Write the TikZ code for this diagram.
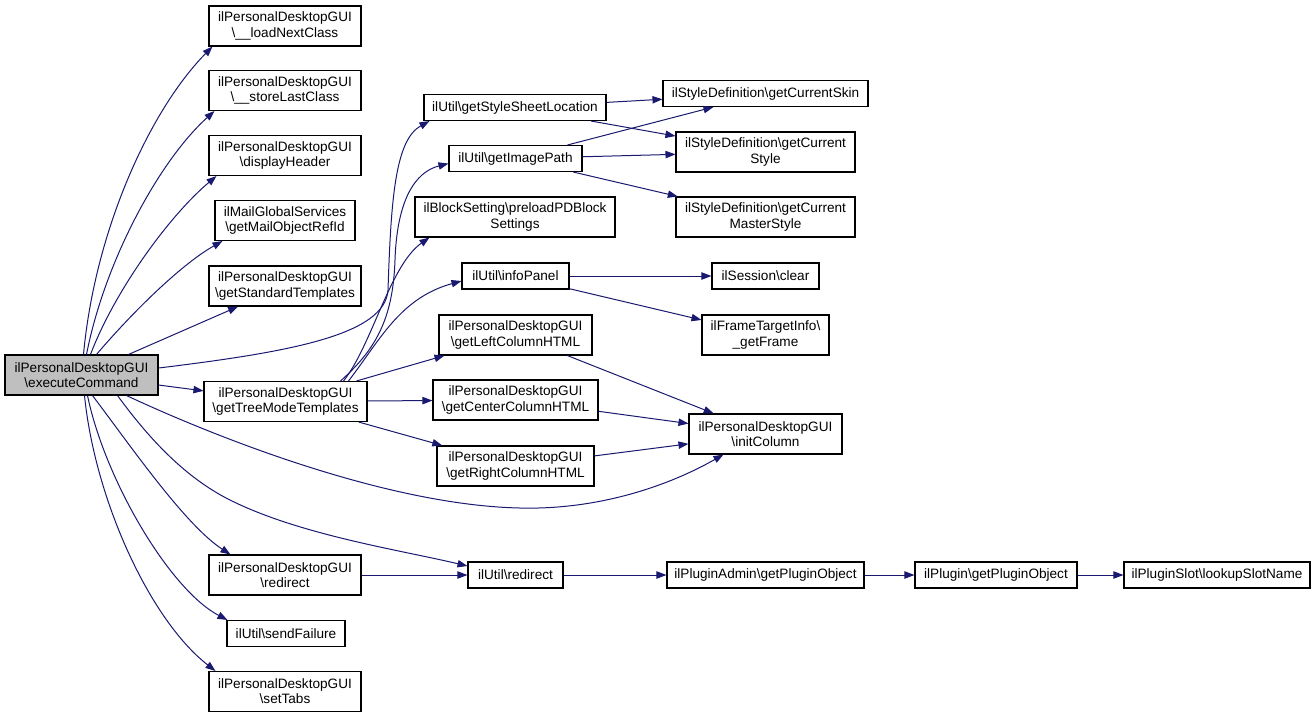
\documentclass[tikz,border=0pt]{standalone}
\usepackage{fontspec}
\setmainfont{Liberation Sans}
\usetikzlibrary{arrows.meta,calc}
\definecolor{edge}{RGB}{25,25,112}
\definecolor{hl}{RGB}{191,191,191}
\tikzset{
  box/.style={draw=black, line width=0.8pt, fill=white, align=center, inner sep=1pt,
    minimum width=#1*0.75pt, minimum height=30pt,
    font=\fontsize{10.2}{11.4}\selectfont},
  one/.style={minimum height=19.5pt},
  call/.style={draw=edge, line width=0.75pt, -{Triangle[length=7.5pt,width=5.5pt]}},
}
\newcommand{\bs}{\textbackslash}
\begin{document}
\begin{tikzpicture}[x=0.75pt,y=-0.75pt]
\useasboundingbox (0,0) rectangle (1316,719);
% nodes
\node[box=153, fill=hl] (exec) at (81.5,375) {ilPersonalDesktopGUI\\\bs executeCommand};
\node[box=152] (n1) at (285,26) {ilPersonalDesktopGUI\\\bs\_\_loadNextClass};
\node[box=152] (n2) at (285,90.5) {ilPersonalDesktopGUI\\\bs\_\_storeLastClass};
\node[box=152] (n3) at (285,155.5) {ilPersonalDesktopGUI\\\bs displayHeader};
\node[box=140] (n4) at (285,220.5) {ilMailGlobalServices\\\bs getMailObjectRefId};
\node[box=152] (n5) at (285,286) {ilPersonalDesktopGUI\\\bs getStandardTemplates};
\node[box=163] (tree) at (285.5,401.5) {ilPersonalDesktopGUI\\\bs getTreeModeTemplates};
\node[box=152] (pred) at (285,575) {ilPersonalDesktopGUI\\\bs redirect};
\node[box=118, one] (sendf) at (286,633.5) {ilUtil\bs sendFailure};
\node[box=152] (tabs) at (285,691.5) {ilPersonalDesktopGUI\\\bs setTabs};
\node[box=182, one] (gss) at (515,107.5) {ilUtil\bs getStyleSheetLocation};
\node[box=133, one] (gip) at (515.5,158.5) {ilUtil\bs getImagePath};
\node[box=200] (pre) at (515,217) {ilBlockSetting\bs preloadPDBlock\\Settings};
\node[box=107, one] (info) at (515.5,276) {ilUtil\bs infoPanel};
\node[box=153] (left) at (515.5,335) {ilPersonalDesktopGUI\\\bs getLeftColumnHTML};
\node[box=165] (center) at (515.5,400) {ilPersonalDesktopGUI\\\bs getCenterColumnHTML};
\node[box=157] (right) at (515.5,466) {ilPersonalDesktopGUI\\\bs getRightColumnHTML};
\node[box=205, one] (skin) at (765.5,93.5) {ilStyleDefinition\bs getCurrentSkin};
\node[box=179] (style) at (765.5,152) {ilStyleDefinition\bs getCurrent\\Style};
\node[box=179] (master) at (765.5,217) {ilStyleDefinition\bs getCurrent\\MasterStyle};
\node[box=107, one] (clear) at (765.5,276) {ilSession\bs clear};
\node[box=127] (frame) at (765.5,335) {ilFrameTargetInfo\bs\\\_getFrame};
\node[box=153] (init) at (765.5,434) {ilPersonalDesktopGUI\\\bs initColumn};
\node[box=95, one] (ured) at (515.5,575) {ilUtil\bs redirect};
\node[box=197, one] (padmin) at (765.5,575) {ilPluginAdmin\bs getPluginObject};
\node[box=162, one] (plugin) at (996,575) {ilPlugin\bs getPluginObject};
\node[box=186, one] (slot) at (1217,575) {ilPluginSlot\bs lookupSlotName};
% edges from executeCommand
\draw[call] ($(exec.north)+(2,0)$) .. controls (95,230) and (150,110) .. ($(n1.south west)+(4,0)$);
\draw[call] ($(exec.north)+(5,0)$) .. controls (105,260) and (160,160) .. ($(n2.south west)+(6,0)$);
\draw[call] ($(exec.north)+(9,0)$) .. controls (115,290) and (170,215) .. ($(n3.south west)+(8,0)$);
\draw[call] ($(exec.north)+(15,0)$) .. controls (130,315) and (180,265) .. ($(n4.south west)+(8,0)$);
\draw[call] (exec) -- (n5);
\draw[call] ($(exec.east)+(0,-7)$) .. controls (290,352) and (385,335) .. (388,290) .. controls (391,200) and (395,140) .. ($(gss.south west)+(6,0)$);
\draw[call] (exec) -- (tree);
\draw[call] ($(exec.south)+(45,0)$) .. controls (200,430) and (380,505) .. (520,508) .. controls (600,510) and (670,485) .. ($(init.south west)+(35,0)$);
\draw[call] ($(exec.south)+(36,0)$) .. controls (150,440) and (186,478) .. (230,500) .. controls (300,535) and (400,550) .. ($(ured.west)+(0,-9)$);
\draw[call] ($(exec.south)+(11,0)$) .. controls (130,445) and (185,525) .. ($(pred.north west)+(22,0)$);
\draw[call] ($(exec.south)+(6,0)$) .. controls (105,480) and (170,590) .. ($(sendf.north west)+(1,0)$);
\draw[call] ($(exec.south)+(3,0)$) .. controls (95,500) and (150,620) .. ($(tabs.north west)+(7,0)$);
% edges from getTreeModeTemplates
\draw[call] ($(tree.north east)+(-27,0)$) .. controls (375,350) and (393,320) .. (395,260) .. controls (397,200) and (415,172) .. ($(gip.west)+(0,5)$);
\draw[call] ($(tree.north east)+(-24,0)$) .. controls (372,345) and (390,265) .. ($(pre.south west)+(15,0)$);
\draw[call] ($(tree.north east)+(-19,0)$) .. controls (380,340) and (400,298) .. ($(info.west)+(0,5)$);
\draw[call] (tree) -- (left);
\draw[call] (tree) -- (center);
\draw[call] (tree) -- (right);
% second level
\draw[call] (gss) -- (skin);
\draw[call] (gss) -- (style);
\draw[call] (gip) -- (skin);
\draw[call] (gip) -- (style);
\draw[call] (gip) -- (master);
\draw[call] (info) -- (clear);
\draw[call] (info) -- (frame);
\draw[call] (left) -- (init);
\draw[call] (center) -- (init);
\draw[call] (right) -- (init);
\draw[call] (pred) -- (ured);
\draw[call] (ured) -- (padmin);
\draw[call] (padmin) -- (plugin);
\draw[call] (plugin) -- (slot);
\end{tikzpicture}
\end{document}
